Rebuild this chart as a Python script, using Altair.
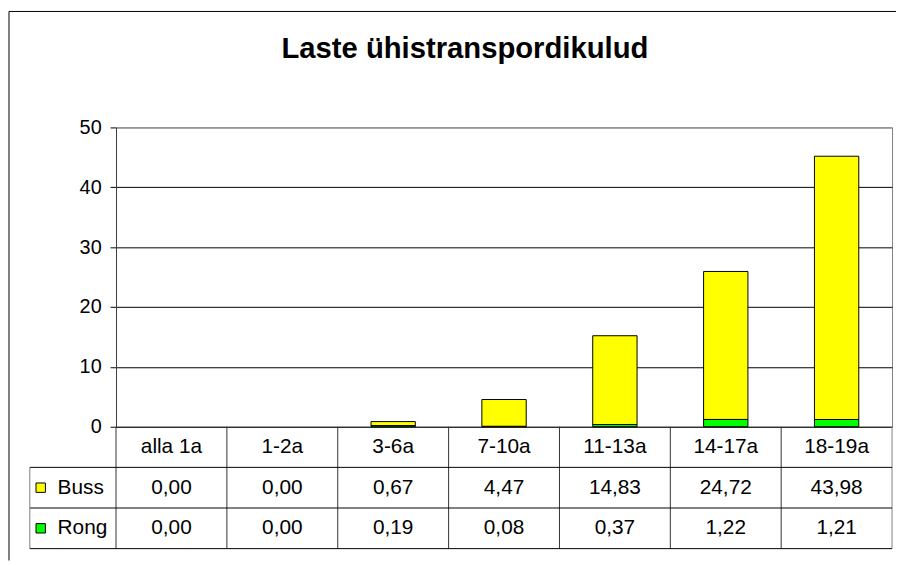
import altair as alt
import pandas as pd

# ---- data ----
categories = ["alla 1a", "1-2a", "3-6a", "7-10a", "11-13a", "14-17a", "18-19a"]
buss = [0.00, 0.00, 0.67, 4.47, 14.83, 24.72, 43.98]
rong = [0.00, 0.00, 0.19, 0.08, 0.37, 1.22, 1.21]
series = ["Buss", "Rong"]
series_colors = ["#FFFF00", "#00FF00"]
title_text = "Laste ühistranspordikulud"
y_ticks = [0, 10, 20, 30, 40, 50]
table_rows = ["hdr", "Buss", "Rong"]

FONT = "Liberation Sans"
W = 783
H = 302
TH = 123
FRAME_TOP = -117

# ---- tables built from the arrays ----
bar_rows = []
for c, b, r in zip(categories, buss, rong):
    bar_rows.append({"cat": c, "series": "Rong", "value": r, "ord": 0})
    bar_rows.append({"cat": c, "series": "Buss", "value": b, "ord": 1})
bar_df = pd.DataFrame(bar_rows)


def fmt(v):
    return f"{v:.2f}".replace(".", ",")


tab_rows = []
for c, b, r in zip(categories, buss, rong):
    tab_rows.append({"col": c, "row": "hdr", "txt": c})
    tab_rows.append({"col": c, "row": "Buss", "txt": fmt(b)})
    tab_rows.append({"col": c, "row": "Rong", "txt": fmt(r)})
tab_df = pd.DataFrame(tab_rows)

# ---- top: stacked bars ----
grid_color = {"condition": {"test": "datum.value === 50", "value": "#808080"}, "value": "black"}

bars = alt.Chart(bar_df).transform_filter("datum.value > 0").mark_bar(stroke="black", strokeWidth=1).encode(
    x=alt.X("cat:N", sort=categories,
            scale=alt.Scale(domain=categories, paddingInner=0.6, paddingOuter=0.3),
            axis=None),
    y=alt.Y("value:Q", stack="zero",
            scale=alt.Scale(domain=[0, 50], nice=False),
            axis=alt.Axis(values=y_ticks, grid=True, gridColor=grid_color, gridWidth=1,
                          gridOpacity=1, tickColor="black", tickSize=6, domainColor="#404040",
                          labelFont=FONT, labelFontSize=20, labelColor="black",
                          labelPadding=9, title=None, format="d")),
    color=alt.Color("series:N", scale=alt.Scale(domain=series, range=series_colors), legend=None),
    order=alt.Order("ord:Q"),
)

title_mark = alt.Chart(pd.DataFrame({"t": [title_text]})).mark_text(
    font=FONT, fontSize=29.5, fontWeight="bold", align="center", baseline="alphabetic", color="black"
).encode(text="t:N", x=alt.value(352), y=alt.value(-70))

frame_left = alt.Chart(pd.DataFrame({"a": [0]})).mark_rule(color="black", strokeWidth=1).encode(
    x=alt.value(-108), y=alt.value(FRAME_TOP), y2=alt.value(437))
frame_top = alt.Chart(pd.DataFrame({"a": [0]})).mark_rule(color="black", strokeWidth=1).encode(
    x=alt.value(-108), x2=alt.value(W + 4), y=alt.value(FRAME_TOP))

top = alt.layer(frame_left, frame_top, title_mark, bars).properties(
    width=W, height=H, view=alt.ViewBackground(stroke="#808080", strokeWidth=1))

# ---- bottom: data table ----
xs = alt.Scale(domain=categories, paddingInner=0, paddingOuter=0)
ys = alt.Scale(domain=table_rows, paddingInner=0, paddingOuter=0)

cells = alt.Chart(tab_df).mark_text(
    font=FONT, fontSize=21, align="center", baseline="middle", color="black"
).encode(
    x=alt.X("col:N", scale=xs, axis=None),
    y=alt.Y("row:N", scale=ys, axis=None),
    text="txt:N",
)

vlines = alt.Chart(pd.DataFrame({"col": categories})).mark_rule(color="#333333", strokeWidth=1).encode(
    x=alt.X("col:N", scale=xs, axis=None, bandPosition=0))
vright = alt.Chart(pd.DataFrame({"col": [categories[-1]]})).mark_rule(color="#808080", strokeWidth=1).encode(
    x=alt.X("col:N", scale=xs, axis=None, bandPosition=1))

hlines = alt.Chart(pd.DataFrame({"row": series})).mark_rule(color="black", strokeWidth=1).encode(
    y=alt.Y("row:N", scale=ys, axis=None, bandPosition=0), x=alt.value(-87), x2=alt.value(W))
hbottom = alt.Chart(pd.DataFrame({"row": [series[-1]]})).mark_rule(color="black", strokeWidth=1).encode(
    y=alt.Y("row:N", scale=ys, axis=None, bandPosition=1), x=alt.value(-87), x2=alt.value(W))
legend_left = alt.Chart(pd.DataFrame({"a": [0]})).mark_rule(color="#808080", strokeWidth=1).encode(
    x=alt.value(-87), y=alt.value(TH / 3), y2=alt.value(TH))

keys = alt.Chart(pd.DataFrame({"row": series})).mark_square(
    size=90, stroke="black", strokeWidth=1, opacity=1
).encode(
    x=alt.value(-76),
    y=alt.Y("row:N", scale=ys, axis=None),
    fill=alt.Fill("row:N", scale=alt.Scale(domain=series, range=series_colors), legend=None),
)
key_labels = alt.Chart(pd.DataFrame({"row": series})).mark_text(
    font=FONT, fontSize=21, align="left", baseline="middle", color="black"
).encode(x=alt.value(-59), y=alt.Y("row:N", scale=ys, axis=None), text="row:N")

bottom = alt.layer(vlines, vright, hlines, hbottom, legend_left, keys, key_labels, cells).properties(
    width=W, height=TH, view=alt.ViewBackground(stroke="transparent"))

chart = alt.vconcat(top, bottom, spacing=0, bounds="flush").resolve_scale(
    x="independent", y="independent", color="independent", fill="independent"
).properties(padding=0, background="white").configure_view(stroke="transparent")

chart.save("out.html", embed_options={"renderer": "svg", "actions": False})
